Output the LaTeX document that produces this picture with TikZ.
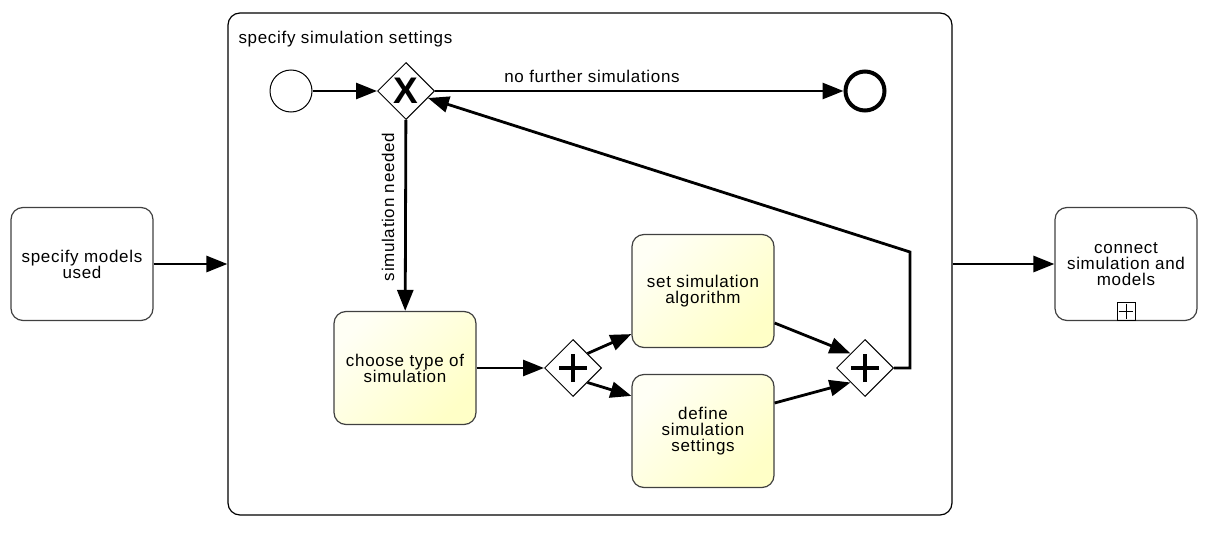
\documentclass[tikz,border=0pt]{standalone}
\usepackage{fontspec}
\setmainfont{Liberation Sans}[LetterSpace=4]
\usepackage{tikz}
\usetikzlibrary{shapes,arrows,positioning,calc,arrows.meta}

\begin{document}
\begin{tikzpicture}[x=1pt, y=-1pt, node distance=140pt, auto,
    every node/.style={font=\fontsize{17}{16}\selectfont, align=center},
    task/.style={rectangle, rounded corners=12pt, draw=black!75, line width=1.2pt, minimum width=142pt, minimum height=113pt, inner sep=2pt},
    work/.style={task, left color=yellow!4, right color=yellow!22, shading angle=45},
    gate/.style={diamond, draw, line width=1pt, fill=white, minimum size=57pt, inner sep=0pt},
    event/.style={circle, draw, line width=1pt, minimum size=42pt, inner sep=0pt},
    flow/.style={-{Triangle[length=21pt, width=16pt]}, line width=2.8pt}]
    \useasboundingbox (0,0) rectangle (1208,538);

    % outer tasks and the expanded sub-process
    \node [task] (models) at (82,264) {specify models\\used};
    \node [rectangle, rounded corners=12pt, draw, line width=1.2pt, minimum width=724pt, minimum height=502pt] (sub) at (590,264) {};
    \node [anchor=west] (subname) at (235,39) {specify simulation settings};
    \node [task] (connect) at (1126,264) {connect\\simulation and\\models};
    \node [draw, line width=0.8pt, minimum size=18pt, inner sep=0pt, anchor=south] (marker) at ([yshift=0.6pt]connect.south) {};
    \draw [line width=0.8pt] ([yshift=-2pt]marker.north) -- ([yshift=2pt]marker.south);
    \draw [line width=0.8pt] ([xshift=2pt]marker.west) -- ([xshift=-2pt]marker.east);

    % inside the sub-process
    \node [event] (start) at (291,91) {};
    \node [gate] (xor) at (406,91) {\fontsize{37}{37}\selectfont\bfseries X};
    \node [event, line width=4pt, minimum size=39pt] (stop) at (865,91) {};
    \node [work] (choose) at (405,368) {choose type of\\simulation};
    \node [gate, right of=choose, node distance=168pt] (split) {};
    \node [work] (algo) at (703,291) {set simulation\\algorithm};
    \node [work, below of=algo] (define) {define\\simulation\\settings};
    \node [gate] (join) at (865,368) {};
    \foreach \g in {split, join} {
        \draw [line width=4.5pt] ([xshift=-14pt]\g.center) -- ([xshift=14pt]\g.center);
        \draw [line width=4.5pt] ([yshift=-14pt]\g.center) -- ([yshift=14pt]\g.center);
    }
    \coordinate (back) at (910,252);

    \draw [flow] (models.east) -- (sub.west |- models.east);
    \draw [flow] (start) -- (xor);
    \draw [flow] (xor) -- (stop);
    \node (nofurther) at (592,76) {no further simulations};
    \draw [flow] (xor) -- (choose);
    \node [rotate=90] (needed) at (388,207) {simulation needed};
    \draw [flow] (choose) -- (split);
    \draw [flow] (split.north east) -- ([yshift=14pt]algo.south west);
    \draw [flow] (split.south east) -- ([yshift=-22pt]define.north west);
    \draw [flow] ([yshift=-32pt]algo.east) -- (join.north west);
    \draw [flow] ([yshift=28pt]define.east) -- (join.south west);
    \draw [flow] (join.east) -| (back) -- (xor);
    \draw [flow] (sub.east |- connect.west) -- (connect.west);
\end{tikzpicture}
\end{document}
